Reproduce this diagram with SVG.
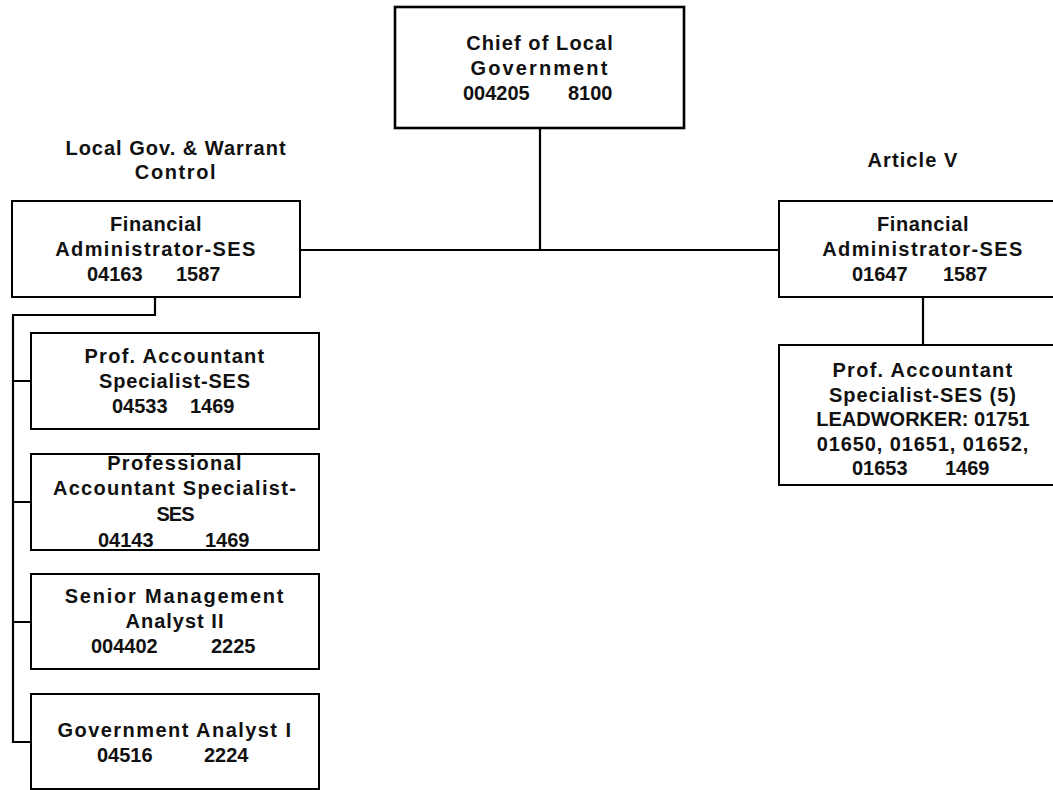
<svg xmlns="http://www.w3.org/2000/svg" width="1053" height="790" viewBox="0 0 1053 790">
  <style>
    .box { fill: #ffffff; stroke: #000000; stroke-width: 2; }
    .box-top { fill: #ffffff; stroke: #000000; stroke-width: 2.6; }
    .wire { fill: none; stroke: #000000; stroke-width: 2.2; }
    text { font-family: "Liberation Sans", Arial, sans-serif; font-weight: bold; font-size: 20px; fill: #111111; }
    .c { text-anchor: middle; }
  </style>
  <rect width="1053" height="790" fill="#ffffff"/>

  <!-- reporting lines -->
  <g id="connectors">
    <path class="wire" d="M540,128 V250"/>
    <path class="wire" d="M300,250 H779"/>
    <path class="wire" d="M923,297 V345"/>
    <path class="wire" d="M155,297 V315 H13 V742 H31"/>
    <path class="wire" d="M13,381 H31 M13,502 H31 M13,622 H31"/>
  </g>

  <!-- section headings -->
  <g id="label-local-gov">
    <text class="c" x="176" y="155" letter-spacing="1">Local Gov. &amp; Warrant</text>
    <text class="c" x="176" y="179" letter-spacing="1.6">Control</text>
  </g>
  <g id="label-article-v">
    <text class="c" x="913" y="167" letter-spacing="1.1">Article V</text>
  </g>

  <g id="chief">
    <rect class="box-top" x="395" y="7" width="289" height="121"/>
    <text class="c" x="540" y="50" letter-spacing="1.1">Chief of Local</text>
    <text class="c" x="540" y="75" letter-spacing="2.1">Government</text>
    <text x="463" y="100">004205</text>
    <text x="568" y="100">8100</text>
  </g>

  <g id="fin-admin-local">
    <rect class="box" x="12" y="201" width="288" height="96"/>
    <text class="c" x="156" y="231" letter-spacing="0.6">Financial</text>
    <text class="c" x="156" y="256" letter-spacing="1.4">Administrator-SES</text>
    <text x="87" y="281">04163</text>
    <text x="176" y="281">1587</text>
  </g>

  <g id="fin-admin-article-v">
    <rect class="box" x="779" y="201" width="289" height="96"/>
    <text class="c" x="923" y="231" letter-spacing="0.6">Financial</text>
    <text class="c" x="923" y="256" letter-spacing="1.4">Administrator-SES</text>
    <text x="852" y="281">01647</text>
    <text x="943" y="281">1587</text>
  </g>

  <g id="prof-acct-article-v">
    <rect class="box" x="779" y="345" width="289" height="140"/>
    <text class="c" x="923" y="377" letter-spacing="1.3">Prof. Accountant</text>
    <text class="c" x="923" y="402" letter-spacing="1">Specialist-SES (5)</text>
    <text class="c" x="923" y="426">LEADWORKER: 01751</text>
    <text class="c" x="923" y="451" letter-spacing="0.9">01650, 01651, 01652,</text>
    <text x="852" y="475">01653</text>
    <text x="945" y="475">1469</text>
  </g>

  <g id="prof-acct-04533">
    <rect class="box" x="31" y="333" width="288" height="96"/>
    <text class="c" x="175" y="363" letter-spacing="1.3">Prof. Accountant</text>
    <text class="c" x="175" y="388" letter-spacing="0.85">Specialist-SES</text>
    <text x="112" y="413">04533</text>
    <text x="190" y="413">1469</text>
  </g>

  <g id="prof-acct-04143">
    <rect class="box" x="31" y="454" width="288" height="96"/>
    <text class="c" x="175" y="470" letter-spacing="1.3">Professional</text>
    <text class="c" x="175" y="495" letter-spacing="1.3">Accountant Specialist-</text>
    <text class="c" x="175" y="521" letter-spacing="-1">SES</text>
    <text x="98" y="547">04143</text>
    <text x="205" y="547">1469</text>
  </g>

  <g id="senior-mgmt-analyst">
    <rect class="box" x="31" y="574" width="288" height="95"/>
    <text class="c" x="175" y="603" letter-spacing="1.8">Senior Management</text>
    <text class="c" x="175" y="628" letter-spacing="1">Analyst II</text>
    <text x="91" y="653">004402</text>
    <text x="211" y="653">2225</text>
  </g>

  <g id="gov-analyst">
    <rect class="box" x="31" y="694" width="288" height="95"/>
    <text class="c" x="175" y="737" letter-spacing="1.45">Government Analyst I</text>
    <text x="97" y="762">04516</text>
    <text x="204" y="762">2224</text>
  </g>
</svg>
